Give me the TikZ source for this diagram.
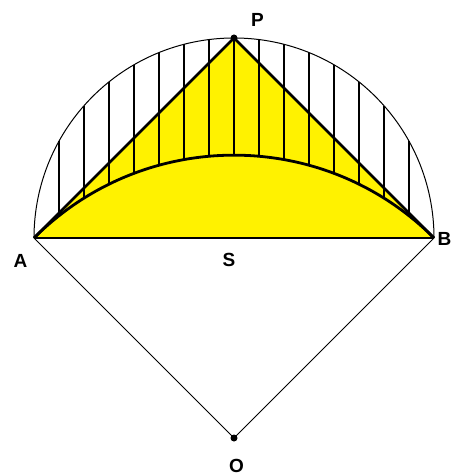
\documentclass[tikz,border=0pt]{standalone}
\usepackage{fontspec}
\setmainfont{Liberation Sans}
\begin{document}
\begin{tikzpicture}[x=100pt,y=100pt,
  thinline/.style={line width=0.5pt},
  thickline/.style={line width=1.4pt},
  hatch/.style={line width=0.6pt},
  lbl/.style={font=\fontsize{9.5}{10}\selectfont\bfseries, inner sep=0pt},
  dot/.style={circle, fill=black, inner sep=0pt, minimum size=3.5pt}]
\useasboundingbox (-1.17,-1.19) rectangle (1.09,1.19);
\coordinate (S) at (0,0);
\coordinate (A) at (-1,0);
\coordinate (B) at (1,0);
\coordinate (P) at (0,1);
\coordinate (O) at (0,-1);
\fill[yellow] (A) -- (P) -- (B) -- cycle;
\foreach \k in {-7,...,7} {
  \pgfmathsetmacro{\tt}{\k/8}
  \pgfmathsetmacro{\ytop}{sqrt(1-\tt*\tt)}
  \pgfmathsetmacro{\ybot}{sqrt(2-\tt*\tt)-1}
  \draw[hatch] (\tt,\ytop) -- (\tt,\ybot);
}
\draw[thinline] (B) arc[start angle=0,end angle=180,radius=1];
\draw[thinline] (A) -- (O) -- (B);
\draw[thickline] (A) arc[start angle=135,end angle=45,radius=1.41421];
\draw[thickline] (A) -- (P) -- (B);
\draw[line width=1.3pt] (A) -- (B);
\node[dot] (Pd) at (P) {};
\node[dot] (Od) at (O) {};
\node[lbl] (lA) at (-1.0675,-0.1125) {A};
\node[lbl] (lB) at (1.052,-0.005) {B};
\node[lbl] (lP) at (0.1175,1.0925) {P};
\node[lbl] (lS) at (-0.025,-0.11) {S};
\node[lbl] (lO) at (0.0125,-1.1375) {O};
\end{tikzpicture}
\end{document}
